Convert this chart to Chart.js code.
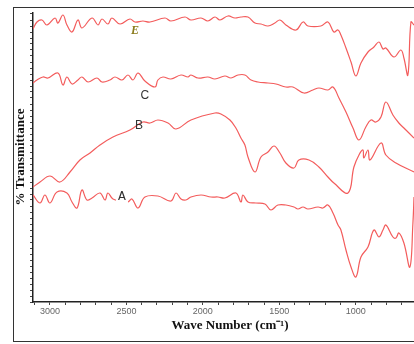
<!DOCTYPE html>
<html>
<head>
<meta charset="utf-8">
<script src="https://cdn.jsdelivr.net/npm/chart.js@4/dist/chart.umd.min.js"></script>
<style>
  html, body { margin: 0; padding: 0; background: #fff; overflow: hidden; }
  #wrap { position: relative; width: 414px; height: 344px; }
  #frame { position: absolute; left: 13px; top: 7px; width: 420px; height: 333px; border: 1.5px solid #333; }
  #box { position: absolute; left: 0; top: 0; width: 414px; height: 344px; }
</style>
</head>
<body>
<div id="wrap">
  <div id="frame"></div>
  <div id="box"><canvas id="ftir"></canvas></div>
</div>
<script>
// wave numbers (cm-1) and transmittance (arb. units)
var eWave = [3111, 3085, 3052, 3020, 2967, 2948, 2915, 2889, 2856, 2817, 2791, 2725, 2686, 2660, 2621, 2595, 2542, 2477, 2444, 2392, 2346, 2248, 2209, 2117, 2078, 2012, 1967, 1921, 1888, 1836, 1790, 1751, 1705, 1659, 1620, 1574, 1529, 1496, 1457, 1391, 1345, 1313, 1228, 1182, 1143, 1116, 1097, 1064, 1031, 999, 966, 920, 881, 848, 822, 803, 750, 705, 685, 659, 639, 619];
var eT = [136.5, 140, 141, 138.5, 142, 139.5, 143.5, 138.5, 135, 141, 137, 142, 138.5, 141.5, 139, 142, 139, 141.5, 140, 140.5, 140, 142, 140.5, 142.5, 141, 142, 140.5, 142.5, 141, 143, 142, 142.5, 142.5, 139.5, 139, 138, 139.5, 141, 138.5, 136, 140, 138, 138, 140, 135, 136, 133.5, 127, 120, 113, 119.5, 125, 127.5, 130, 126.5, 127, 122.5, 126, 122, 113.5, 140, 138.5];

var cWave = [3111, 3085, 3046, 3013, 2948, 2915, 2889, 2856, 2817, 2791, 2751, 2693, 2660, 2608, 2575, 2529, 2490, 2457, 2424, 2379, 2313, 2294, 2261, 2209, 2143, 2097, 2078, 2032, 1967, 1921, 1856, 1816, 1770, 1725, 1685, 1640, 1574, 1522, 1457, 1411, 1339, 1280, 1241, 1182, 1149, 1110, 1064, 1018, 979, 934, 901, 868, 835, 803, 757, 718, 685, 619];
var cT = [109.5, 111, 112.5, 112, 114.5, 108.5, 112.5, 109, 111, 112.5, 110, 112, 110, 111, 112.5, 111, 113.5, 111, 114.5, 110.5, 107.5, 111, 112.5, 111.5, 113.5, 112.5, 113.5, 112, 112.5, 111.5, 113, 112, 113.5, 113.5, 111, 110, 109.5, 109, 107.5, 107.5, 104.5, 106, 107, 106, 107.5, 102, 95, 87, 81, 87.5, 91, 90, 92.5, 100, 93.5, 89.5, 87, 82];

var bWave = [3111, 3065, 3000, 2935, 2869, 2804, 2738, 2673, 2588, 2477, 2392, 2346, 2294, 2228, 2176, 2078, 1921, 1882, 1823, 1784, 1751, 1725, 1705, 1659, 1620, 1574, 1535, 1496, 1457, 1404, 1372, 1306, 1241, 1182, 1143, 1051, 1012, 979, 953, 947, 920, 907, 835, 803, 737, 619];
var bT = [57.5, 60, 63, 60, 65, 71, 74.5, 78.5, 82.5, 86, 90, 89.5, 91, 89.5, 86.5, 91, 94.5, 94, 91, 87, 82, 78.5, 72.5, 65, 72.5, 75, 78, 74.5, 69.5, 67, 71, 71, 67.5, 62.5, 59.5, 54.5, 67.5, 73.5, 76, 72, 76, 71, 79.5, 73.5, 69.5, 65];

var aWave = [3111, 3065, 3033, 3000, 2954, 2889, 2856, 2823, 2791, 2758, 2725, 2673, 2640, 2621, 2588, 2529, 2490, 2464, 2424, 2379, 2294, 2209, 2176, 2143, 2111, 2078, 2012, 1947, 1901, 1856, 1784, 1751, 1738, 1705, 1653, 1594, 1555, 1509, 1457, 1404, 1378, 1345, 1313, 1247, 1215, 1182, 1149, 1116, 1097, 1064, 1031, 999, 966, 920, 881, 848, 822, 803, 757, 737, 718, 685, 646, 626, 619];
var aT = [53.5, 49.5, 53.5, 49.5, 55, 54.5, 50, 47, 56, 51, 52, 54.5, 51, 54.5, 51.5, 50.5, 50, 51.5, 47, 52.5, 53, 50.5, 54.5, 51.5, 51, 52.5, 53.5, 52.5, 52.5, 52, 54.5, 50, 53.5, 50, 49.5, 49, 46, 48.5, 48.5, 47.5, 46.5, 47.5, 46.5, 47.5, 47, 48.5, 44.5, 38.5, 36, 26, 17.5, 12.5, 22.5, 27.5, 36, 32.5, 36, 38.5, 32.5, 32, 34.5, 29.5, 17.5, 39.5, 52.5];

var xTicks = [3000, 2500, 2000, 1500, 1000];

// sample labels: [text, wave number, transmittance]
var tags = [['E', 2444, 135.5], ['C', 2379, 103], ['B', 2418, 88], ['A', 2529, 52.5]];

function pts(w, t) {
    return w.map(function (x, i) { return { x: x, y: t[i] }; });
}

function series(w, t) {
    return {
        data: pts(w, t),
        borderColor: 'rgb(243,92,92)',
        borderWidth: 1.2,
        pointRadius: 0,
        tension: 0.4,
        fill: false
    };
}

var decor = {
    id: 'decor',
    afterDatasetsDraw: function (chart) {
        var ctx = chart.ctx, xs = chart.scales.x, ys = chart.scales.y;
        ctx.save();
        ctx.textAlign = 'center';
        ctx.textBaseline = 'middle';
        tags.forEach(function (t) {
            var px = xs.getPixelForValue(t[1]), py = ys.getPixelForValue(t[2]);
            if (t[0] === 'E') {
                ctx.font = 'italic bold 12px "Liberation Serif"';
                ctx.fillStyle = '#8a7b1c';
            } else if (t[0] === 'A') {
                ctx.fillStyle = '#fff';
                ctx.fillRect(px - 6, py - 7, 12, 14);
                ctx.font = '13px "Liberation Mono"';
                ctx.fillStyle = '#333';
            } else {
                ctx.font = '12px "Liberation Sans"';
                ctx.fillStyle = '#333';
            }
            ctx.fillText(t[0], px, py);
        });
        // axis titles
        ctx.fillStyle = '#111';
        ctx.font = 'bold 13px "Liberation Serif"';
        ctx.fillText('Wave Number (cm\u207B\u00B9)', 230, 326);
        ctx.translate(21, 157);
        ctx.rotate(-Math.PI / 2);
        ctx.fillText('% Transmittance', 0, 0);
        ctx.restore();
    }
};

new Chart(document.getElementById('ftir').getContext('2d'), {
    type: 'line',
    data: {
        datasets: [series(eWave, eT), series(cWave, cT), series(bWave, bT), series(aWave, aT)]
    },
    options: {
        responsive: true,
        maintainAspectRatio: false,
        animation: false,
        layout: { padding: { top: 13, left: 0, right: 0, bottom: 0 } },
        plugins: { legend: false, tooltip: { enabled: false } },
        scales: {
            x: {
                type: 'linear',
                reverse: true,
                min: 619,
                max: 3111,
                afterFit: function (s) { s.height = 42; },
                afterBuildTicks: function (s) {
                    var t = [];
                    for (var v = 700; v <= 3100; v += 100) t.push({ value: v });
                    s.ticks = t;
                },
                ticks: {
                    autoSkip: false,
                    maxRotation: 0,
                    padding: 1,
                    color: '#666',
                    font: { family: 'Liberation Sans', size: 9 },
                    callback: function (v) { return xTicks.indexOf(v) >= 0 ? String(v) : ''; }
                },
                grid: { drawOnChartArea: false, tickLength: 3, color: '#444' },
                border: { color: '#222', width: 1.5 }
            },
            y: {
                min: 0,
                max: 144.5,
                afterFit: function (s) { s.width = 33; },
                ticks: { display: false, stepSize: 3 },
                grid: { drawOnChartArea: false, tickLength: 3, color: '#444' },
                border: { color: '#222', width: 1.5 }
            }
        }
    },
    plugins: [decor]
});
</script>
</body>
</html>
